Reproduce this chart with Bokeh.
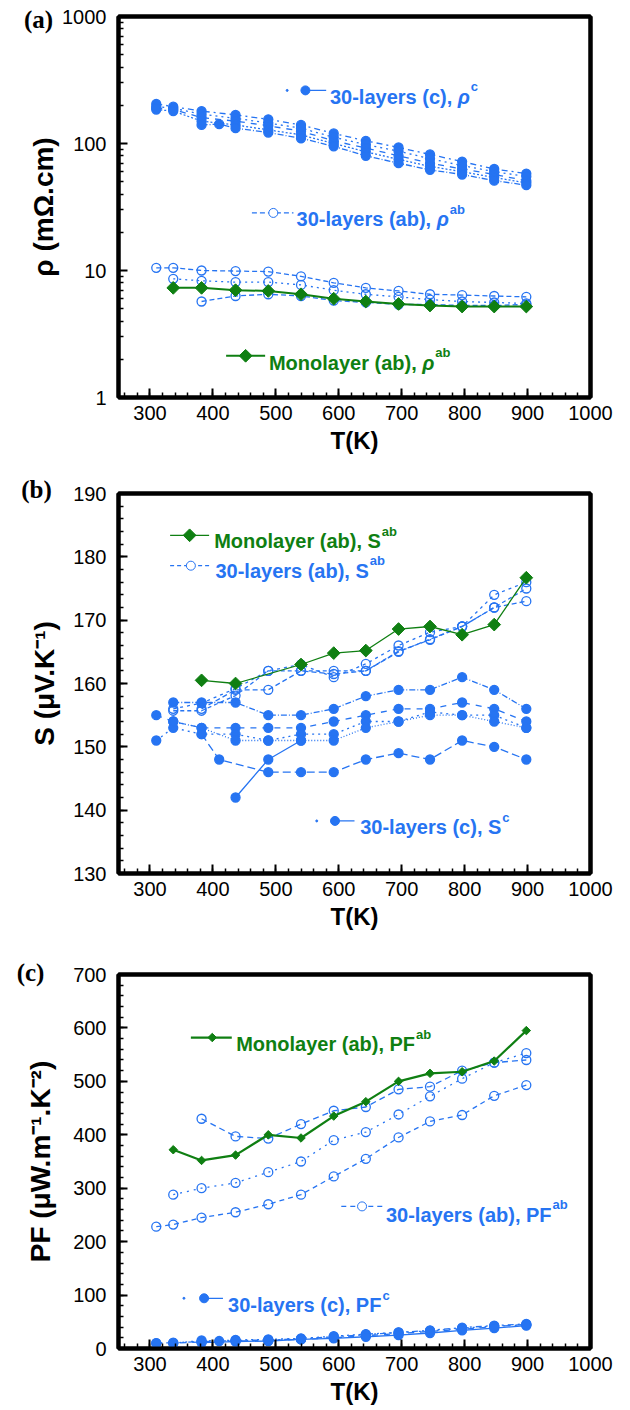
import numpy as np
from bokeh.plotting import figure
from bokeh.layouts import column
from bokeh.models import (Range1d, FixedTicker, NumeralTickFormatter, Label,
                          LinearAxis, LogAxis)
from bokeh.core.properties import value
from bokeh.embed import file_html
from bokeh.resources import INLINE

BLUE = "#2674f2"
GREEN = "#0f7f12"

# ---------------- data: panel (a) resistivity (mOhm.cm) ----------------
T_mono_a = [337, 382, 436, 488, 540, 592, 643, 695, 745, 796, 847, 898]
rho_mono = [7.3, 7.3, 7.0, 6.9, 6.5, 6.0, 5.7, 5.45, 5.3, 5.2, 5.2, 5.2]

T_ab1_a = [310, 337, 382, 436, 488, 540, 592, 643, 695, 745, 796, 847, 898]
rho_ab1 = [10.5, 10.5, 10.0, 9.9, 9.8, 9.0, 8.0, 7.3, 6.9, 6.5, 6.4, 6.3, 6.2]
T_ab2_a = [337, 382, 436, 488, 540, 592, 643, 695, 745, 796, 847, 898]
rho_ab2 = [8.6, 8.3, 8.1, 8.1, 7.7, 7.0, 6.5, 6.2, 5.9, 5.7, 5.6, 5.5]
T_ab3_a = [382, 436, 488, 540, 592, 643, 695, 745, 796, 847, 898]
rho_ab3 = [5.7, 6.3, 6.5, 6.3, 5.8, 5.6, 5.4, 5.4, 5.3, 5.3, 5.4]

T_c_a = [310, 337, 382, 436, 488, 540, 592, 643, 695, 745, 796, 847, 898]
rho_c1 = [205, 195, 180, 168, 155, 140, 120, 105, 93, 82, 72, 63, 58]
rho_c2 = [195, 190, 170, 158, 145, 132, 112, 98, 87, 76, 67, 60, 55]
rho_c3 = [190, 185, 160, 150, 138, 125, 105, 92, 80, 70, 63, 57, 51]
rho_c4 = [185, 180, 150, 140, 128, 117, 100, 86, 75, 66, 60, 54, 49]
T_c5_a = [382, 410, 436, 488, 540, 592, 643, 695, 745, 796, 847, 898]
rho_c5 = [140, 142, 132, 122, 110, 95, 80, 70, 62, 57, 51, 47]

# ---------------- data: panel (b) Seebeck (uV/K) ----------------
T_mono_b = [382, 436, 540, 592, 643, 695, 745, 796, 847, 898]
S_mono = [160.5, 160.0, 163.0, 164.8, 165.2, 168.6, 169.0, 167.7, 169.3, 176.7]

T_ab1_b = [337, 382, 436, 488, 540, 592, 643, 695, 745, 796, 847, 898]
S_ab1 = [155.7, 155.7, 158.1, 162.0, 162.0, 162.0, 162.0, 165.1, 166.9, 169.0, 172.0, 175.0]
S_ab2 = [156.0, 156.9, 159.2, 162.0, 163.0, 161.0, 163.1, 166.0, 168.1, 169.0, 174.0, 176.0]
T_ab3_b = [382, 436, 488, 540, 592, 643, 695, 745, 796, 847, 898]
S_ab3 = [156.0, 159.0, 159.0, 162.0, 161.5, 162.0, 165.0, 167.0, 169.0, 172.0, 173.0]

T_c1_b = [337, 382, 436, 488, 540, 592, 643, 695, 745, 796, 847, 898]
S_c1 = [157, 157, 157, 155, 155, 156, 158, 159, 159, 161, 159, 156]
T_c2_b = [310, 337, 382, 436, 488, 540, 592, 643, 695, 745, 796, 847, 898]
S_c2 = [155, 154, 153, 153, 153, 153, 154, 155, 156, 156, 157, 156, 154]
S_c3 = [151, 153, 152, 152, 151, 152, 152, 154, 154, 155.5, 155, 155, 153]
T_c4_b = [337, 382, 436, 488, 540, 592, 643, 695, 745, 796, 847, 898]
S_c4 = [154, 153, 151, 151, 151, 151, 153, 154, 155, 155, 154, 153]
T_c5_b = [382, 410, 488, 540, 592, 643, 695, 745, 796, 847, 898]
S_c5 = [152, 148, 146, 146, 146, 148, 149, 148, 151, 150, 148]
T_c6_b = [436, 488, 540]
S_c6 = [142, 148, 151]

# ---------------- data: panel (c) power factor (uW/m/K^2) ----------------
T_mono_c = [337, 382, 436, 488, 540, 592, 643, 695, 745, 796, 847, 898]
PF_mono = [372, 352, 362, 400, 394, 435, 462, 500, 515, 518, 538, 595]

T_ab1_c = [310, 337, 382, 436, 488, 540, 592, 643, 695, 745, 796, 847, 898]
PF_ab1 = [228, 232, 245, 255, 270, 288, 322, 355, 395, 425, 437, 473, 493]
T_ab2_c = [337, 382, 436, 488, 540, 592, 643, 695, 745, 796, 847, 898]
PF_ab2 = [288, 300, 310, 330, 350, 390, 405, 438, 472, 505, 535, 553]
T_ab3_c = [382, 436, 488, 540, 592, 643, 695, 745, 796, 847, 898]
PF_ab3 = [430, 397, 393, 420, 445, 452, 485, 490, 520, 535, 540]

T_c_c = [310, 337, 382, 436, 488, 540, 592, 643, 695, 745, 796, 847, 898]
PF_c1 = [10, 11, 13, 15, 16, 18, 22, 26, 30, 34, 39, 43, 46]
PF_c2 = [10, 10, 12, 14, 15, 17, 20, 24, 28, 32, 36, 41, 45]
T_c3_c = [337, 382, 410, 436, 488, 540, 592, 643, 695, 745, 796, 847, 898]
PF_c3 = [10, 15, 14, 16, 17, 19, 23, 27, 30, 33, 38, 42, 44]
T_c4_c = [382, 436, 488, 540, 592, 643, 695, 745, 796, 847, 898]
PF_c4 = [11, 13, 14, 17, 19, 22, 25, 29, 34, 38, 43]

x_ticks = [300, 400, 500, 600, 700, 800, 900, 1000]

# Arial-bold advance widths (per em) to place superscripts / split labels
W = {' ': .278, '(': .333, ')': .333, ',': .278, '-': .333, '.': .278,
     'M': .833, 'P': .667, 'F': .611, 'S': .667, 'a': .556, 'b': .611, 'c': .556,
     'e': .556, 'l': .278, 'n': .611, 'o': .611, 'r': .389, 's': .556, 'y': .556,
     'ρ': .60}


def twidth(s, size):
    return sum(W.get(ch, .556) for ch in s) * size


FONT = "Liberation Sans"


def bare_axis(cls):
    return cls(ticker=FixedTicker(ticks=[]), major_label_text_font_size="0px",
               major_tick_line_color=None, minor_tick_line_color=None,
               major_tick_in=0, major_tick_out=0, minor_tick_in=0, minor_tick_out=0,
               major_label_standoff=0, axis_label_standoff=0,
               axis_line_color="black", axis_line_width=4)


def make_fig(h, left, right, top, bottom, yr, ytype, ylabel, ystand):
    p = figure(width=630, height=h, x_range=Range1d(250, 1000), y_range=yr,
               y_axis_type=ytype, output_backend="svg", toolbar_location=None,
               min_border_left=left, min_border_right=right,
               min_border_top=top, min_border_bottom=bottom)
    p.grid.visible = False
    p.outline_line_color = "black"
    p.outline_line_width = 4
    p.background_fill_color = "white"
    p.border_fill_color = "white"
    for ax in (p.xaxis[0], p.yaxis[0]):
        ax.axis_line_color = "black"
        ax.axis_line_width = 4
        ax.major_tick_in = 9
        ax.major_tick_out = 0
        ax.minor_tick_in = 5
        ax.minor_tick_out = 0
        ax.major_tick_line_width = 2
        ax.minor_tick_line_width = 1.5
        ax.major_label_text_font = FONT
        ax.major_label_text_font_size = "20px"
        ax.major_label_text_color = "black"
        ax.axis_label_text_font = FONT
        ax.axis_label_text_font_style = "bold"
        ax.axis_label_text_color = "black"
    p.xaxis.ticker = FixedTicker(ticks=x_ticks, minor_ticks=list(range(260, 1000, 20)))
    p.xaxis.major_label_standoff = 8
    p.xaxis.axis_label = "T(K)"
    p.xaxis.axis_label_text_font_size = "24px"
    p.xaxis.axis_label_standoff = 4
    p.yaxis.major_label_standoff = 12
    p.yaxis.axis_label = ylabel
    p.yaxis.axis_label_text_font_size = "28px"
    p.yaxis.axis_label_standoff = ystand
    p.add_layout(bare_axis(LinearAxis), "above")
    p.add_layout(bare_axis(LogAxis if ytype == "log" else LinearAxis), "right")
    return p


def series(p, x, y, dash, filled, lw=1.3, size=9):
    p.line(x, y, line_color=BLUE, line_width=lw, line_dash=dash)
    p.scatter(x, y, marker="circle", size=size, line_color=BLUE, line_width=1.3,
              fill_color=BLUE if filled else None)


def mono(p, x, y, lw, size):
    p.line(x, y, line_color=GREEN, line_width=lw)
    p.scatter(x, y, marker="square", angle=np.pi / 4, size=size,
              line_color=GREEN, fill_color=GREEN)


def label(p, x, y, main, sup, color, greek=""):
    common = dict(text_font=value(FONT), text_color=color, text_baseline="middle",
                  text_align="left")
    p.text([x], [y], text=[main], text_font_style="bold", text_font_size="20px", **common)
    off = twidth(main, 20)
    if greek:
        p.text([x], [y], text=[greek], text_font_style="bold italic",
               text_font_size="20px", x_offset=off, **common)
        off += twidth(greek, 20)
    p.text([x], [y], text=[sup], text_font_style="bold", text_font_size="13px",
           x_offset=off + 1, y_offset=-10, **common)


def panel_tag(p, x, y, dx, dy, tag):
    # placed in the (roomy) right border panel so it is not clipped to the frame;
    # its drawing position comes from the data anchor plus pixel offsets
    p.add_layout(Label(x=x, y=y, x_offset=dx, y_offset=dy, text=tag,
                       text_font="Liberation Serif", text_font_style="bold",
                       text_font_size="25px", text_align="center",
                       text_baseline="middle", text_color="black"), "right")


# ---------------- panel (a) ----------------
pa = make_fig(465, 110, 40, 16, 68, Range1d(1, 1000), "log", "ρ (mΩ.cm)", 0)
pa.yaxis[0].ticker = FixedTicker(ticks=[1, 10, 100, 1000],
                                 minor_ticks=[m * d for d in (1, 10, 100) for m in range(2, 10)])
pa.yaxis[0].formatter = NumeralTickFormatter(format="0")

for yv, dash in ((rho_c1, "dashdot"), (rho_c2, "dotted"), (rho_c3, "dashed"), (rho_c4, "2 2")):
    series(pa, T_c_a, yv, dash, True)
series(pa, T_c5_a, rho_c5, "6 2 1 2", True)
series(pa, T_ab1_a, rho_ab1, "5 3", False)
series(pa, T_ab2_a, rho_ab2, "2 4", False)
series(pa, T_ab3_a, rho_ab3, "5 3", False)
mono(pa, T_mono_a, rho_mono, 2, 9)

# legend samples (a)
pa.scatter([518], [262], marker="circle", size=2, color=BLUE)
pa.line([547, 580], [262, 262], line_color=BLUE, line_width=1.3)
pa.scatter([547], [262], marker="circle", size=9, color=BLUE)
label(pa, 586, 233, "30-layers (c), ", "c", BLUE, greek="ρ")
pa.line([462, 528], [28.4, 28.4], line_color=BLUE, line_width=1.3, line_dash="5 3")
pa.scatter([496], [28.4], marker="circle", size=9, line_color=BLUE, fill_color="white")
label(pa, 533, 25.3, "30-layers (ab), ", "ab", BLUE, greek="ρ")
pa.line([421, 483], [2.13, 2.13], line_color=GREEN, line_width=2)
pa.scatter([452], [2.13], marker="square", angle=np.pi / 4, size=9, color=GREEN)
label(pa, 489, 1.87, "Monolayer (ab), ", "ab", GREEN, greek="ρ")
panel_tag(pa, 250, 1000, -80, -3, "(a)")

# ---------------- panel (b) ----------------
pb = make_fig(475, 112, 35, 28, 67, Range1d(130, 190), "linear", "S (μV.K⁻¹)", 10)
pb.yaxis[0].ticker = FixedTicker(ticks=list(range(130, 191, 10)),
                                 minor_ticks=list(range(130, 191, 2)))

series(pb, T_c1_b, S_c1, "6 2 1 2", True)
series(pb, T_c2_b, S_c2, "dashed", True)
series(pb, T_c2_b, S_c3, "dotted", True)
series(pb, T_c4_b, S_c4, "1 2", True)
series(pb, T_c5_b, S_c5, "8 4", True)
series(pb, T_c6_b, S_c6, "solid", True)
series(pb, T_ab1_b, S_ab1, "4 3", False)
series(pb, T_ab1_b, S_ab2, "3 4", False)
series(pb, T_ab3_b, S_ab3, "5 3", False)
mono(pb, T_mono_b, S_mono, 1.3, 9)

pb.line([332, 394], [183.4, 183.4], line_color=GREEN, line_width=1.3)
pb.scatter([363], [183.4], marker="square", angle=np.pi / 4, size=9, color=GREEN)
label(pb, 402, 182.5, "Monolayer (ab), S", "ab", GREEN)
pb.line([332, 395], [178.6, 178.6], line_color=BLUE, line_width=1.3, line_dash="4 3")
pb.scatter([365], [178.6], marker="circle", size=9, line_color=BLUE, fill_color="white")
label(pb, 404, 177.8, "30-layers (ab), S", "ab", BLUE)
pb.scatter([565], [138.3], marker="circle", size=2, color=BLUE)
pb.line([594, 625], [138.3, 138.3], line_color=BLUE, line_width=1.3)
pb.scatter([594], [138.3], marker="circle", size=9, color=BLUE)
label(pb, 634, 137.3, "30-layers (c), S", "c", BLUE)
panel_tag(pb, 250, 190, -82, 4, "(b)")

# ---------------- panel (c) ----------------
pc = make_fig(470, 118, 38, 34, 62, Range1d(0, 700), "linear", "PF (μW.m⁻¹.K⁻²)", 14)
pc.yaxis[0].ticker = FixedTicker(ticks=list(range(0, 701, 100)),
                                 minor_ticks=list(range(0, 701, 20)))

series(pc, T_c_c, PF_c1, "dashdot", True)
series(pc, T_c_c, PF_c2, "dashed", True)
series(pc, T_c3_c, PF_c3, "dotted", True)
series(pc, T_c4_c, PF_c4, "solid", True)
series(pc, T_ab1_c, PF_ab1, "5 4", False)
series(pc, T_ab2_c, PF_ab2, "2 5", False)
series(pc, T_ab3_c, PF_ab3, "6 4", False)
mono(pc, T_mono_c, PF_mono, 2.2, 6)

pc.line([365, 430], [582, 582], line_color=GREEN, line_width=2.2)
pc.scatter([399], [582], marker="square", angle=np.pi / 4, size=6, color=GREEN)
label(pc, 437, 569, "Monolayer (ab), PF", "ab", GREEN)
pc.line([604, 671], [266, 266], line_color=BLUE, line_width=1.3, line_dash="5 4")
pc.scatter([637], [266], marker="circle", size=9, line_color=BLUE, fill_color="white")
label(pc, 675, 250, "30-layers (ab), PF", "ab", BLUE)
pc.scatter([354], [94], marker="circle", size=2, color=BLUE)
pc.line([386, 416], [94, 94], line_color=BLUE, line_width=1.3)
pc.scatter([386], [94], marker="circle", size=9, color=BLUE)
label(pc, 424, 81, "30-layers (c), PF", "c", BLUE)
panel_tag(pc, 250, 700, -88, 2, "(c)")

layout = column(pa, pb, pc, spacing=0)
open("out.html", "w").write(file_html(layout, INLINE))
